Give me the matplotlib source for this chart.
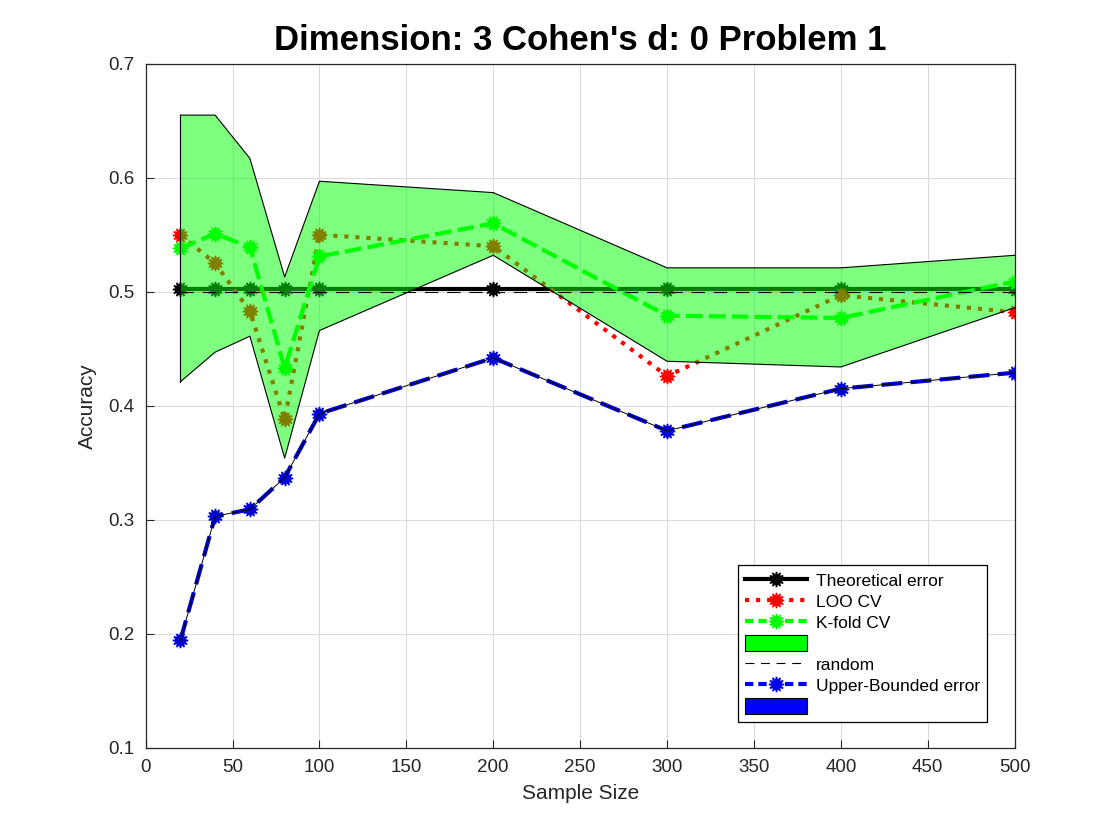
import numpy as np
import matplotlib
matplotlib.use("Agg")
import matplotlib.pyplot as plt
from matplotlib.patches import Patch
from matplotlib.lines import Line2D

# ======================================
# Data
# ======================================

sample_size = [20, 40, 60, 80, 100, 200, 300, 400, 500]

theoretical = [0.502] * 9
random_acc = [0.5] * 9

loo_cv = [0.550, 0.525, 0.483, 0.388, 0.550, 0.540, 0.426, 0.497, 0.482]
kfold_cv = [0.538, 0.551, 0.539, 0.433, 0.531, 0.560, 0.479, 0.477, 0.509]
kfold_upper = [0.655, 0.655, 0.617, 0.513, 0.597, 0.587, 0.521, 0.521, 0.532]
kfold_lower = [0.421, 0.447, 0.461, 0.354, 0.466, 0.532, 0.439, 0.434, 0.486]

upper_bounded = [0.194, 0.303, 0.309, 0.337, 0.393, 0.442, 0.378, 0.415, 0.429]

# ======================================
# Style
# ======================================

plt.rcParams['font.family'] = ['Liberation Sans', 'DejaVu Sans']
star = (12, 1, 0)
dark = '#262626'

fig = plt.figure(figsize=(11.2, 8.4), dpi=100)
ax = fig.add_axes([0.130, 0.110, 0.776, 0.814])

ax.plot(sample_size, theoretical, color='black', lw=3, marker=star, ms=11,
        label='Theoretical error', zorder=2)
ax.plot(sample_size, loo_cv, color='red', lw=3, ls=':', marker=star, ms=11,
        label='LOO CV', zorder=2)
ax.plot(sample_size, kfold_cv, color=(0, 1, 0), lw=3, ls=(0, (4, 1.5)), marker=star, ms=11,
        label='K-fold CV', zorder=2)
ax.fill_between(sample_size, kfold_lower, kfold_upper, facecolor=(0, 1, 0), alpha=0.5,
                edgecolor='none', zorder=3)
ax.plot(sample_size, kfold_upper, color='black', lw=0.8, zorder=3)
ax.plot(sample_size, kfold_lower, color='black', lw=0.8, zorder=3)
ax.plot([sample_size[0], sample_size[0]], [kfold_lower[0], kfold_upper[0]], color='black', lw=0.8, zorder=3)
ax.plot([sample_size[-1], sample_size[-1]], [kfold_lower[-1], kfold_upper[-1]], color='black', lw=0.8, zorder=3)

ax.plot(sample_size, random_acc, color='black', lw=0.8, ls=(0, (12, 8)), label='random', zorder=4)
ax.plot(sample_size, upper_bounded, color=(0, 0, 0.85), lw=3, ls=(0, (5, 2)), marker=star, ms=11,
        label='Upper-Bounded error', zorder=4)
ax.plot(sample_size, upper_bounded, color='black', lw=0.7, zorder=5)

ax.set_xlim(0, 500)
ax.set_ylim(0.1, 0.7)
ax.set_xticks(np.arange(0, 501, 50))
ax.set_yticks(np.arange(0.1, 0.71, 0.1))
ax.set_yticklabels(['0.1', '0.2', '0.3', '0.4', '0.5', '0.6', '0.7'])
ax.grid(True, color='#dcdcdc', lw=0.8)
ax.set_axisbelow(True)
ax.tick_params(direction='in', labelsize=13.5, length=6, pad=8, colors=dark,
               top=False, right=False)
for s in ax.spines.values():
    s.set_linewidth(0.9)
    s.set_color(dark)

ax.set_xlabel('Sample Size', fontsize=15, color=dark, labelpad=6)
ax.set_ylabel('Accuracy', fontsize=15, color=dark, labelpad=8)
ax.set_title("Dimension: 3 Cohen's d: 0 Problem 1", fontsize=25, fontweight='bold', pad=10)

handles = [
    Line2D([], [], color='black', lw=3, marker=star, ms=11),
    Line2D([], [], color='red', lw=3, ls=':', marker=star, ms=11),
    Line2D([], [], color=(0, 1, 0), lw=3, ls=(0, (2, 1.2)), marker=star, ms=11),
    Patch(facecolor=(0, 1, 0), edgecolor='black', lw=0.8),
    Line2D([], [], color='black', lw=0.8, ls=(0, (8, 6))),
    Line2D([], [], color='blue', lw=3, ls=(0, (2, 1.2)), marker=star, ms=11),
    Patch(facecolor='blue', edgecolor='black', lw=0.8),
]
labels = ['Theoretical error', 'LOO CV', 'K-fold CV', ' ', 'random', 'Upper-Bounded error', ' ']
leg = ax.legend(handles, labels, loc='lower right', bbox_to_anchor=(0.978, 0.025),
                fontsize=12.5, fancybox=False, edgecolor='black', framealpha=1,
                handlelength=3.6, handleheight=1.0, labelspacing=0.25, borderpad=0.4,
                handletextpad=0.5)
leg.get_frame().set_linewidth(0.9)

fig.savefig('out.png', dpi=100)
